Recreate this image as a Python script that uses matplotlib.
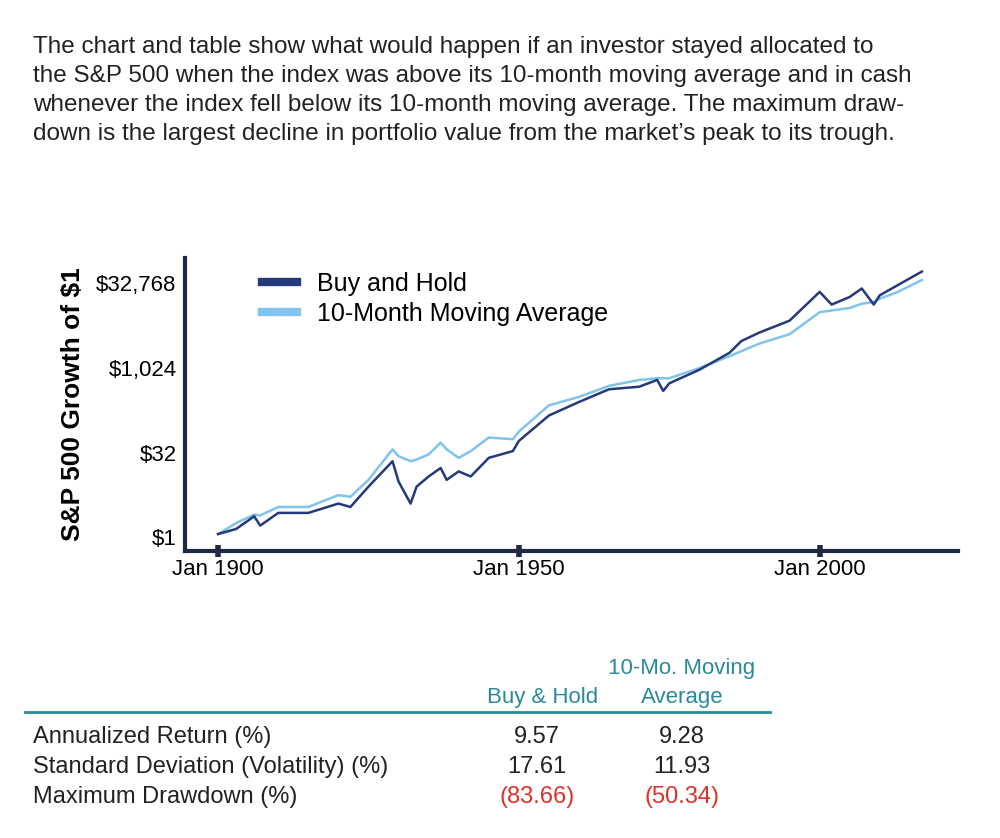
import matplotlib
matplotlib.use("Agg")
import matplotlib.pyplot as plt
from matplotlib.lines import Line2D

# growth of $1, in log2 units
years = [1900, 1903, 1906, 1907, 1910, 1915, 1920, 1922, 1925, 1929, 1930, 1932, 1933, 1935, 1937,
         1938, 1940, 1942, 1945, 1949, 1950, 1955, 1960, 1965, 1970, 1973, 1974, 1975, 1980, 1985,
         1987, 1990, 1995, 2000, 2002, 2005, 2007, 2009, 2010, 2013, 2017]
buy_hold_log2 = [0.2, 0.5, 1.25, 0.7, 1.45, 1.45, 2.0, 1.8, 3.0, 4.5, 3.3, 2.0, 3.0, 3.6, 4.1,
                 3.4, 3.9, 3.6, 4.7, 5.1, 5.7, 7.2, 8.0, 8.75, 8.9, 9.3, 8.65, 9.1, 9.9, 10.9,
                 11.6, 12.1, 12.8, 14.5, 13.75, 14.2, 14.7, 13.75, 14.3, 14.9, 15.7]
ma_log2 = [0.2, 0.85, 1.35, 1.3, 1.8, 1.8, 2.5, 2.4, 3.4, 5.2, 4.8, 4.5, 4.6, 4.9, 5.6,
           5.2, 4.7, 5.1, 5.9, 5.8, 6.25, 7.8, 8.3, 8.95, 9.3, 9.4, 9.4, 9.4, 10.0, 10.7,
           11.0, 11.45, 12.0, 13.3, 13.4, 13.55, 13.8, 13.9, 14.1, 14.5, 15.2]

ytick_vals = [0, 5, 10, 15]
ytick_labels = ["$1", "$32", "$1,024", "$32,768"]
xtick_vals = [1900, 1950, 2000]
xtick_labels = ["Jan 1900", "Jan 1950", "Jan 2000"]

row_labels = ["Annualized Return (%)", "Standard Deviation (Volatility) (%)", "Maximum Drawdown (%)"]
bh_vals = ["9.57", "17.61", "(83.66)"]
ma_vals = ["9.28", "11.93", "(50.34)"]

navy = "#243a7a"
light = "#80c4ec"
axis_col = "#1c2a48"
teal = "#2a8a9a"
red = "#d9322b"
font = "Liberation Sans"

fig = plt.figure(figsize=(10, 8.38), dpi=100)

para = ["The chart and table show what would happen if an investor stayed allocated to",
        "the S&P 500 when the index was above its 10-month moving average and in cash",
        "whenever the index fell below its 10-month moving average. The maximum draw-",
        "down is the largest decline in portfolio value from the market\u2019s peak to its trough."]
for i, line in enumerate(para):
    fig.text(0.033, 1 - (47 + i * 29) / 838, line, fontsize=17.5, family=font,
             color="#222222", va="center", ha="left")

ax = fig.add_axes([0.185, 1 - 551 / 838, 0.773, (551 - 258) / 838])
ax.plot(years, [2 ** v for v in buy_hold_log2], color=navy, lw=1.8, zorder=3)
ax.plot(years, [2 ** v for v in ma_log2], color=light, lw=1.8, zorder=2)
ax.set_yscale("log", base=2)
ax.set_xlim(1894.5, 2023)
ax.set_ylim(2 ** -0.8, 2 ** 16.5)
ax.set_yticks([2 ** v for v in ytick_vals])
ax.set_yticklabels(ytick_labels)
ax.minorticks_off()
ax.set_xticks(xtick_vals)
ax.set_xticklabels(xtick_labels)
for s in ["top", "right"]:
    ax.spines[s].set_visible(False)
for s in ["left", "bottom"]:
    ax.spines[s].set_color(axis_col)
    ax.spines[s].set_linewidth(3)
ax.tick_params(axis="y", length=6, width=3, color="white", direction="in", labelsize=16, pad=6)
ax.tick_params(axis="x", length=8, width=4, color=axis_col, direction="inout", labelsize=16, pad=2)
for lab in ax.get_xticklabels() + ax.get_yticklabels():
    lab.set_family(font)
ax.set_ylabel("S&P 500 Growth of $1", fontsize=19, fontweight="bold", family=font, labelpad=8)

handles = [Line2D([], [], color=navy, lw=6), Line2D([], [], color=light, lw=6)]
ax.legend(handles, ["Buy and Hold", "10-Month Moving Average"], loc="upper left",
          bbox_to_anchor=(0.07, 1.03), frameon=False, handlelength=1.4,
          prop={"family": font, "size": 18}, labelspacing=0.25)

fig.text(0.682, 1 - 668 / 838, "10-Mo. Moving", color=teal, fontsize=16, family=font, ha="center", va="center")
fig.text(0.682, 1 - 697 / 838, "Average", color=teal, fontsize=16, family=font, ha="center", va="center")
fig.text(0.543, 1 - 697 / 838, "Buy & Hold", color=teal, fontsize=16, family=font, ha="center", va="center")
fig.add_artist(Line2D([0.025, 0.77], [1 - 712 / 838] * 2, color=teal, lw=2))
for i, lab in enumerate(row_labels):
    y = 1 - (737 + i * 30) / 838
    c = red if i == 2 else "#222222"
    fig.text(0.033, y, lab, fontsize=17, family=font, color="#222222", va="center")
    fig.text(0.537, y, bh_vals[i], fontsize=17, family=font, color=c, va="center", ha="center")
    fig.text(0.682, y, ma_vals[i], fontsize=17, family=font, color=c, va="center", ha="center")

fig.savefig("out.png", dpi=100)
